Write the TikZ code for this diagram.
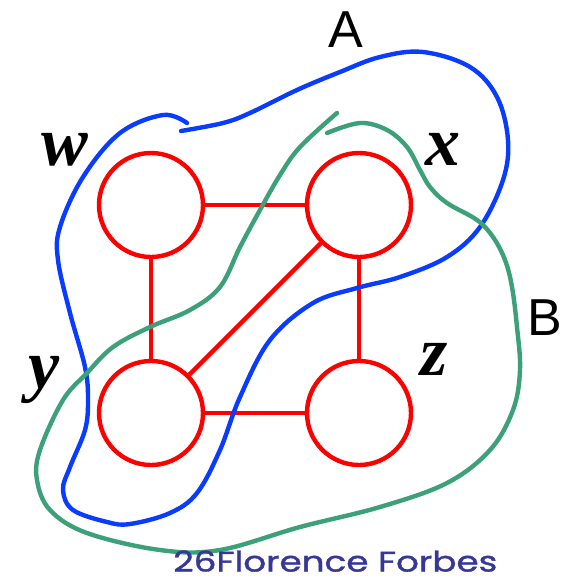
\documentclass[tikz,border=0pt]{standalone}
\usepackage{graphicx}
\usepackage{fontspec}
\newfontfamily\labelsans{Liberation Sans}
\newfontfamily\varfont{Liberation Serif}[UprightFont={* Bold Italic}]
\newfontfamily\signfont{Poppins}[FakeBold=1.2]
\definecolor{curveblue}{RGB}{10,60,255}
\definecolor{curvegreen}{RGB}{60,160,120}
\definecolor{signcolor}{RGB}{55,55,150}
\begin{document}
\begin{tikzpicture}[x=1pt,y=-1pt,
  vertex/.style={circle,draw=red,line width=4.4pt,minimum size=104pt,inner sep=0pt},
  edge/.style={draw=red,line width=4.4pt},
  setA/.style={draw=curveblue,line width=4.4pt,line cap=round},
  setB/.style={draw=curvegreen,line width=4.4pt,line cap=round},
  varlabel/.style={font=\varfont\fontsize{70}{70}\selectfont,inner sep=0pt,anchor=base},
  setlabel/.style={font=\labelsans\fontsize{52}{52}\selectfont,inner sep=0pt,anchor=base}]
\useasboundingbox (0,0) rectangle (561,579);
\node[vertex] (w) at (151,205) {};
\node[vertex] (x) at (359,205) {};
\node[vertex] (y) at (151,413) {};
\node[vertex] (z) at (359,413) {};
\draw[edge] (w) -- (x);
\draw[edge] (w) -- (y);
\draw[edge] (x) -- (z);
\draw[edge] (y) -- (z);
\draw[edge] (x) -- (y);
% set A (blue)
\draw[setA] plot[smooth,tension=0.6] coordinates {(181,131) (223,123) (250,113) (297,90) (340,72) (380,57) (423,52) (470,67) (497,97) (508,140) (503,180) (480,227) (447,257) (400,277) (357,288) (313,303) (270,340) (240,397) (220,450) (197,493) (170,513) (130,524) (107,522) (73,510) (63,490) (70,467) (85,430) (88,400) (85,367) (70,313) (58,260) (60,227) (83,177) (120,133) (163,115) (187,123)};
% set B (green)
\draw[setB] plot[smooth,tension=0.6] coordinates {(337,113) (300,147) (280,175) (260,210) (240,247) (220,287) (190,310) (150,327) (113,347) (87,373) (63,400) (40,450) (37,480) (50,510) (87,533) (160,550) (220,550) (300,527) (380,507) (447,483) (490,450) (513,410) (520,370) (517,327) (512,287) (505,260) (493,237) (477,220) (447,203) (430,187) (420,170) (407,147) (387,130) (360,123) (327,133)};
\node[varlabel] (lw) at (65,165) {w};
\node[varlabel] (lx) at (443,165) {x};
\node[varlabel] (ly) at (44,388) {y};
\node[varlabel] (lz) at (434,375) {z};
\node[setlabel] (lA) at (346,47) {A};
\node[setlabel] (lB) at (545,335) {B};
\node[inner sep=0pt,anchor=south west,text=signcolor] (sign) at (173,572) {\resizebox{324pt}{21pt}{\signfont 26Florence Forbes}};
\end{tikzpicture}
\end{document}
